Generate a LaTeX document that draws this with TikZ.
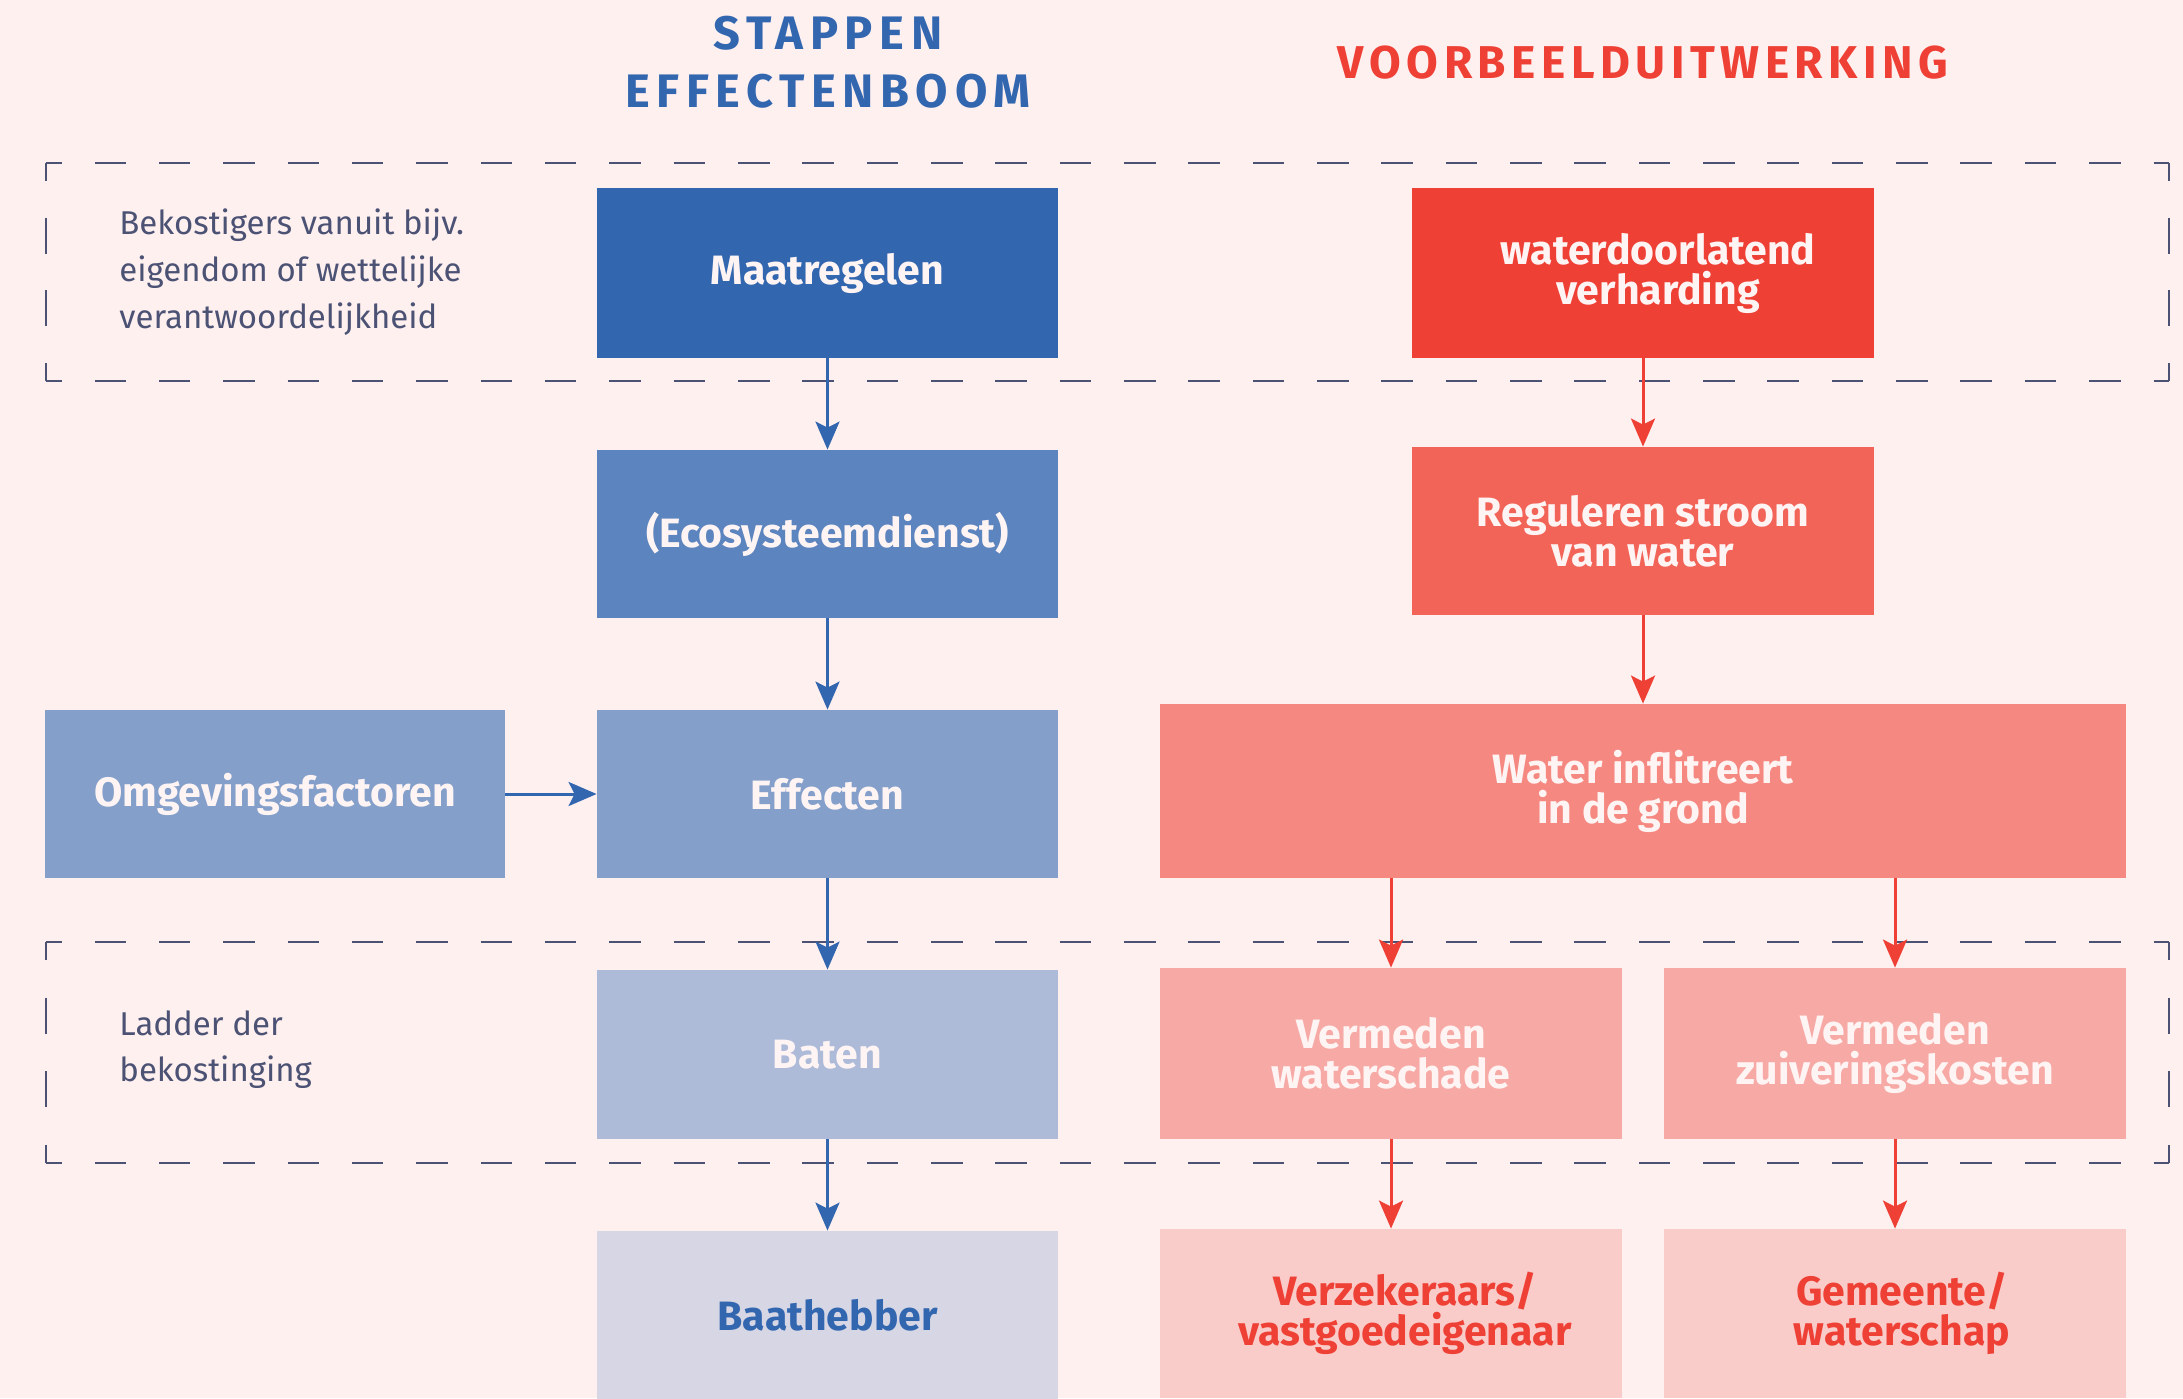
\documentclass[tikz,border=0pt]{standalone}
\usepackage{fontspec}
\setmainfont{Fira Sans}
\newfontfamily\boxfont{Fira Sans}
\newfontfamily\titlefont[LetterSpace=14]{Fira Sans}
\newfontfamily\titlefontR[LetterSpace=12]{Fira Sans}
\usetikzlibrary{arrows.meta}
\definecolor{bg}{HTML}{FFF0F0}
\definecolor{cblue}{HTML}{3267B0}
\definecolor{cblueB}{HTML}{5C84BE}
\definecolor{cblueC}{HTML}{84A0CA}
\definecolor{cblueD}{HTML}{ADBAD8}
\definecolor{cblueE}{HTML}{D6D6E4}
\definecolor{cred}{HTML}{EE4035}
\definecolor{credB}{HTML}{F26457}
\definecolor{credC}{HTML}{F58880}
\definecolor{credD}{HTML}{F7AAA5}
\definecolor{credE}{HTML}{F9CCCA}
\definecolor{cdash}{HTML}{4B5274}
\definecolor{boxtxt}{HTML}{FFF4F4}
\begin{document}
\begin{tikzpicture}[x=0.5pt,y=-0.5pt,
  box/.style={draw=none, inner sep=0pt, align=center, text=boxtxt,
    font=\boxfont\bfseries\fontsize{20.5pt}{20pt}\selectfont},
  sz/.style 2 args={minimum width=#1*0.5pt, minimum height=#2*0.5pt},
  side/.style={anchor=west, align=left, text=cdash, inner sep=0pt},
  ttl/.style={font=\titlefont\bfseries\fontsize{23.5pt}{24pt}\selectfont, inner sep=0pt},
  ttlR/.style={font=\titlefontR\bfseries\fontsize{23pt}{24pt}\selectfont, inner sep=0pt},
  dashH/.style={draw=cdash, line width=1pt, dash pattern=on 15.75pt off 16.42pt, dash phase=7.875pt},
  dashVa/.style={draw=cdash, line width=1pt, dash pattern=on 18pt off 18.33pt, dash phase=9pt},
  dashVb/.style={draw=cdash, line width=1pt, dash pattern=on 18pt off 18.83pt, dash phase=9pt},
  barrow/.style={draw=cblue, line width=1.5pt, -{Stealth[length=14pt,width=12pt,inset=3pt]}},
  rarrow/.style={draw=cred, line width=1.5pt, -{Stealth[length=14pt,width=12pt,inset=3pt]}}
]
\fill[bg] (0,0) rectangle (2183,1398);
\useasboundingbox (0,0) rectangle (2183,1398);

% dashed frames
\draw[dashH] (46,163) -- (2169,163);
\draw[dashH] (46,381) -- (2169,381);
\draw[dashVa] (46,163) -- (46,381);
\draw[dashVa] (2169,163) -- (2169,381);
\draw[dashH] (46,942) -- (2169,942);
\draw[dashH] (46,1163) -- (2169,1163);
\draw[dashVb] (46,942) -- (46,1163);
\draw[dashVb] (2169,942) -- (2169,1163);

% titles
\node[ttl, text=cblue] (t1) at (828,33) {STAPPEN};
\node[ttl, text=cblue] (t2) at (828,91) {EFFECTENBOOM};
\node[ttlR, text=cred] (t3) at (1643,63) {VOORBEELDUITWERKING};

% side texts
\node[side, font=\boxfont\fontsize{16.5pt}{23.5pt}\selectfont] (s1) at (119,272)
  {Bekostigers vanuit bijv.\\eigendom of wettelijke\\verantwoordelijkheid};
\node[side, font=\boxfont\fontsize{16.5pt}{23pt}\selectfont] (s2) at (119,1050)
  {Ladder der\\bekostinging};

% left column
\node[box, sz={461}{170}, fill=cblue] (maat) at (827.5,273) {Maatregelen};
\node[box, sz={461}{168}, fill=cblueB] (eco) at (827.5,534) {(Ecosysteemdienst)};
\node[box, sz={461}{168}, fill=cblueC] (eff) at (827.5,794) {Effecten};
\node[box, sz={460}{168}, fill=cblueC] (omg) at (275,794) {Omgevingsfactoren};
\node[box, sz={461}{169}, fill=cblueD] (baten) at (827.5,1054.5) {Baten};
\node[box, sz={461}{169}, fill=cblueE, text=cblue] (baat) at (827.5,1315.5) {Baathebber};

% right column
\node[box, sz={462}{170}, fill=cred] (wat) at (1643,273) {\hspace*{15pt}waterdoorlatend\\\hspace*{15pt}verharding};
\node[box, sz={462}{168}, fill=credB] (reg) at (1643,531) {Reguleren stroom\\van water};
\node[box, sz={966}{174}, fill=credC] (inf) at (1643,791) {Water inflitreert\\in de grond};
\node[box, sz={462}{171}, fill=credD] (vw) at (1391,1053.5) {Vermeden\\waterschade};
\node[box, sz={462}{171}, fill=credD] (vz) at (1895,1053.5) {Vermeden\\zuiveringskosten};
\node[box, sz={462}{169}, fill=credE, text=cred] (verz) at (1391,1313.5) {\hspace*{14pt}Verzekeraars/\\\hspace*{14pt}vastgoedeigenaar};
\node[box, sz={462}{169}, fill=credE, text=cred] (gem) at (1895,1313.5) {\hspace*{7pt}Gemeente/\\\hspace*{7pt}waterschap};

% arrows
\draw[barrow] (maat.south) -- (eco.north);
\draw[barrow] (eco.south) -- (eff.north);
\draw[barrow] (omg.east) -- (eff.west);
\draw[barrow] (eff.south) -- (baten.north);
\draw[barrow] (baten.south) -- (baat.north);
\draw[rarrow] (wat.south) -- (reg.north);
\draw[rarrow] (reg.south) -- (inf.north);
\draw[rarrow] (inf.south -| vw.north) -- (vw.north);
\draw[rarrow] (inf.south -| vz.north) -- (vz.north);
\draw[rarrow] (vw.south) -- (verz.north);
\draw[rarrow] (vz.south) -- (gem.north);
\end{tikzpicture}
\end{document}
